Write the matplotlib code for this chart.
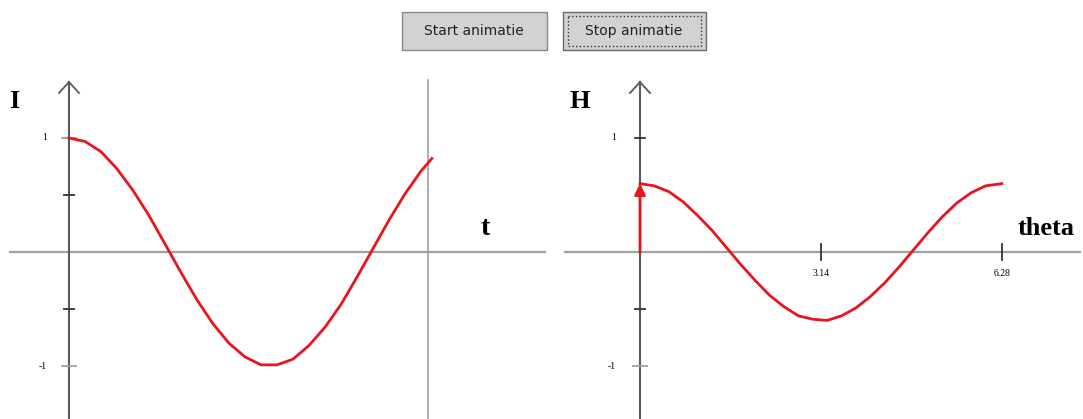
import numpy as np
import matplotlib.pyplot as plt
from matplotlib.patches import Rectangle

# --- Data ---
t_vals = [0, 0.25, 0.5, 0.75, 1.0, 1.25, 1.5, 1.75, 2.0, 2.25, 2.5, 2.75, 3.0,
          3.25, 3.5, 3.75, 4.0, 4.25, 4.5, 4.75, 5.0, 5.25, 5.5, 5.67]
I_vals = [1.00, 0.97, 0.88, 0.73, 0.54, 0.32, 0.07, -0.18, -0.42, -0.63, -0.80, -0.92,
          -0.99, -0.99, -0.94, -0.82, -0.66, -0.46, -0.22, 0.03, 0.28, 0.51, 0.71, 0.82]
t_marker = 5.61

theta_vals = [0, 0.25, 0.5, 0.75, 1.0, 1.25, 1.5, 1.75, 2.0, 2.25, 2.5, 2.75, 3.0,
              3.25, 3.5, 3.75, 4.0, 4.25, 4.5, 4.75, 5.0, 5.25, 5.5, 5.75, 6.0, 6.28]
H_vals = [0.60, 0.58, 0.53, 0.44, 0.32, 0.19, 0.04, -0.11, -0.25, -0.38, -0.48, -0.56,
          -0.59, -0.60, -0.56, -0.49, -0.39, -0.27, -0.13, 0.02, 0.17, 0.31, 0.43, 0.52,
          0.58, 0.60]
H_now = 0.60
theta_ticks = [3.14, 6.28]
theta_ticklabels = ['3.14', '6.28']

W, H = 1083, 419
x_axis_y, unit_y = 252, 114      # pixel row of zero, pixels per unit
serif = 'Liberation Serif'
red = '#e8141e'
axis_dark = '#5a5a5a'
axis_light = '#a0a0a0'

fig = plt.figure(figsize=(W / 100, H / 100), dpi=100)


def panel(x0, x1, origin_px, unit_x):
    ax = fig.add_axes([x0 / W, 0, (x1 - x0) / W, (H - 70) / H])
    ax.set_xlim((x0 - origin_px) / unit_x, (x1 - origin_px) / unit_x)
    ax.set_ylim((x_axis_y - H) / unit_y, (x_axis_y - 70) / unit_y)
    ax.axis('off')
    return ax


def y_axis(ax, unit_x):
    top = (x_axis_y - 82) / unit_y
    ax.plot([0, 0], [-1.5, top], color=axis_dark, lw=1.5)
    dx, dy = 10 / unit_x, 11 / unit_y
    ax.plot([-dx, 0, dx], [top - dy, top, top - dy], color=axis_dark, lw=1.3)


# --- buttons (pixel overlay) ---
bg = fig.add_axes([0, 0, 1, 1])
bg.set_xlim(0, W)
bg.set_ylim(H, 0)
bg.axis('off')
bg.add_patch(Rectangle((402, 12), 145, 38, fc='#d2d2d2', ec='#8a8a8a', lw=1))
bg.text(474, 31, 'Start animatie', ha='center', va='center', fontsize=10, color='#222')
bg.add_patch(Rectangle((563, 12), 143, 38, fc='#d2d2d2', ec='#6a6a6a', lw=1))
bg.add_patch(Rectangle((568, 16), 133, 30, fc='none', ec='#333', lw=1, ls=':'))
bg.text(634, 31, 'Stop animatie', ha='center', va='center', fontsize=10, color='#222')

# --- left panel: I(t) ---
ux1 = 64.0
ax1 = panel(0, 550, 69, ux1)
ax1.plot([-59 / ux1, 476 / ux1], [0, 0], color=axis_light, lw=1.6)
y_axis(ax1, ux1)
for yv in [0.5, -0.5]:
    ax1.plot([-5 / ux1, 5 / ux1], [yv, yv], color='#333', lw=1.3)
for yv in [1, -1]:
    ax1.plot([-7 / ux1, 7 / ux1], [yv, yv], color=axis_light, lw=1.3)
ax1.text(-22 / ux1, 1, '1', ha='right', va='center', fontsize=7, family=serif)
ax1.text(-22 / ux1, -1, '-1', ha='right', va='center', fontsize=7, family=serif)
ax1.plot([t_marker, t_marker], [-1.5, (x_axis_y - 80) / unit_y], color=axis_light, lw=1.2)
ax1.plot(t_vals, I_vals, color=red, lw=2)
ax1.text(-55 / ux1, (x_axis_y - 102) / unit_y, 'I', ha='center', va='center',
         fontsize=19, fontweight='bold', family=serif)
ax1.text((485 - 69) / ux1, (x_axis_y - 228) / unit_y, 't', ha='center', va='center',
         fontsize=20, fontweight='bold', family=serif)

# --- right panel: H(theta) ---
ux2 = 57.6
ax2 = panel(550, W, 640, ux2)
ax2.plot([-75 / ux2, 440 / ux2], [0, 0], color=axis_light, lw=1.6)
y_axis(ax2, ux2)
for xv, lab in zip(theta_ticks, theta_ticklabels):
    ax2.plot([xv, xv], [-8 / unit_y, 8 / unit_y], color='#333', lw=1.3)
    ax2.text(xv, -21 / unit_y, lab, ha='center', va='center', fontsize=7, family=serif)
for yv in [1, -0.5]:
    ax2.plot([-5 / ux2, 5 / ux2], [yv, yv], color='#333', lw=1.3)
ax2.plot([-7 / ux2, 7 / ux2], [-1, -1], color=axis_light, lw=1.3)
ax2.text(-24 / ux2, 1, '1', ha='right', va='center', fontsize=7, family=serif)
ax2.text(-24 / ux2, -1, '-1', ha='right', va='center', fontsize=7, family=serif)
ax2.plot(theta_vals, H_vals, color=red, lw=2)
ax2.annotate('', xy=(0, H_now), xytext=(0, 0),
             arrowprops=dict(arrowstyle='-|>', color=red, lw=2, mutation_scale=16,
                             shrinkA=0, shrinkB=0))
ax2.text((580 - 640) / ux2, (x_axis_y - 102) / unit_y, 'H', ha='center', va='center',
         fontsize=19, fontweight='bold', family=serif)
ax2.text((1046 - 640) / ux2, (x_axis_y - 228) / unit_y, 'theta', ha='center', va='center',
         fontsize=19, fontweight='bold', family=serif)

fig.savefig('out.png', dpi=100)
